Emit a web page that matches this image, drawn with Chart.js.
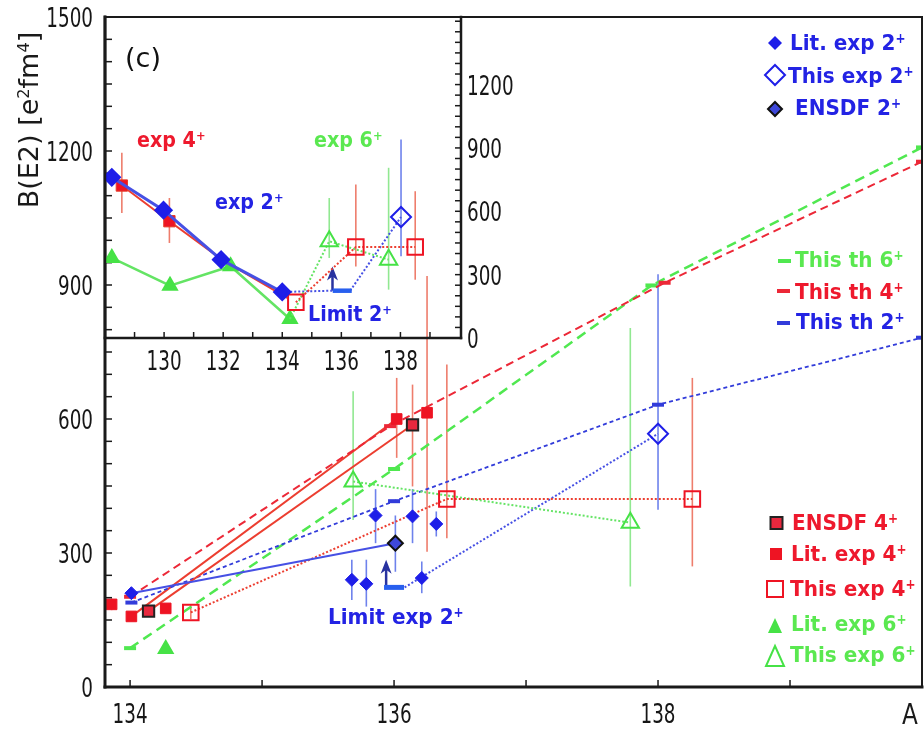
<!DOCTYPE html>
<html>
<head>
<meta charset="utf-8">
<script src="https://cdn.jsdelivr.net/npm/chart.js@4.4.1/dist/chart.umd.min.js"></script>
<style>
body{margin:0;background:#fff}
#wrap{position:relative;width:924px;height:729px;overflow:hidden;background:#fff}
canvas{position:absolute;left:0;top:0}
#marks{position:absolute;left:0;top:0}
.lbl{position:absolute;white-space:nowrap;font-family:'DejaVu Sans',sans-serif;transform-origin:0 0}
.lbl sup{font-size:0.6em;line-height:0;vertical-align:0.55em}
</style>
</head>
<body>
<div id="wrap">
  <canvas id="main" width="924" height="729"></canvas>
  <canvas id="inset" width="540" height="380"></canvas>
  <svg id="marks" width="924" height="729"></svg>
</div>
<script>
// ---- main chart: A on x, B(E2) in e2fm4 on y ----
var lit2A = [134.01, 135.68, 135.79, 135.86, 136.14, 136.21, 136.32];
var lit2B = [210, 240, 231, 384, 382, 244, 365];
var lit2Lo = [null, 195, 180, 322, 322, 210, 337];
var lit2Hi = [null, 285, 285, 443, 443, 281, 393];

var ensdf2A = [134.01, 136.01];
var ensdf2B = [210, 322];
var ensdf2Lo = [null, 258];
var ensdf2Hi = [null, 384];

var this2A = [138.0];
var this2B = [567];
var this2Lo = [397];
var this2Hi = [924];

var limit2A = [136.0];
var limit2B = [223];
var limit2LineA = [136.08, 138.0];
var limit2LineB = [223, 567];
var limit2Arrow = {a: 135.94, from: 223, to: 285};

var th2A = [134.01, 136.0, 138.0, 140.0];
var th2B = [189, 416, 632, 782];
var th4A = [134.0, 135.97, 138.05, 140.0];
var th4B = [202, 584, 905, 1176];
var th6A = [134.0, 136.0, 137.95, 140.0];
var th6B = [87, 488, 899, 1208];

var lit4A = [133.86, 134.01, 134.27, 136.02, 136.25];
var lit4B = [185, 158, 176, 600, 614];
var lit4Lo = [172, null, null, 513, 303];
var lit4Hi = [198, null, null, 692, 920];
var lit4LineA = [134.01, 136.02];
var lit4LineB = [158, 600];

var ensdf4A = [134.14, 136.14];
var ensdf4B = [170, 587];
var ensdf4Lo = [null, 449];
var ensdf4Hi = [null, 677];

var this4A = [134.46, 136.4, 138.26];
var this4B = [167, 421, 421];
var this4Lo = [152, 333, 270];
var this4Hi = [183, 722, 692];

var lit6A = [134.27];
var lit6B = [85];

var this6A = [135.69, 137.79];
var this6B = [460, 368];
var this6Lo = [374, 225];
var this6Hi = [662, 804];

var mainXTicks = [134, 135, 136, 137, 138, 139];
var mainXLabels = [134, 136, 138];
var mainYLabels = [0, 300, 600, 900, 1200, 1500];
var mainYStep = 50;

// ---- inset (c) ----
var insExp2A = [128.23, 129.98, 131.93, 134.0];
var insExp2B = [761, 605, 371, 218];
var insExp4A = [128.57, 130.18, 131.96, 134.17];
var insExp4B = [722, 553, 371, 190];
var insExp4Lo = [592, 450, null, null];
var insExp4Hi = [877, 663, null, null];
var insExp6A = [128.23, 130.2, 132.25, 134.26];
var insExp6B = [379, 248, 340, 90];

var insThis4A = [134.46, 136.49, 138.5];
var insThis4B = [169, 431, 431];
var insThis4Lo = [null, 339, 276];
var insThis4Hi = [null, 727, 695];

var insThis6A = [134.26, 135.59, 137.6];
var insThis6B = [90, 458, 371];
var insThis6Lo = [null, 379, 229];
var insThis6Hi = [null, 663, 806];

var insThis2A = [138.02];
var insThis2B = [573];
var insThis2Lo = [387];
var insThis2Hi = [940];

var insLimLineA = [134.0, 135.7, 136.3, 138.02];
var insLimLineB = [218, 224, 224, 573];
var insLimitA = [136.03];
var insLimitB = [224];
var insLimitArrow = {a: 135.7, from: 224, to: 339};

var insXTicks = [129, 130, 131, 132, 133, 134, 135, 136, 137, 138, 139];
var insXLabels = [130, 132, 134, 136, 138];
var insYLabels = [0, 300, 600, 900, 1200];
var insYStep = 50;

// colours
var BLUE = 'rgb(30,30,232)', RED = 'rgb(238,20,35)', GREEN = 'rgb(70,226,70)';
var BLUE_L = 'rgb(70,80,228)', RED_L = 'rgb(236,62,48)', GREEN_L = 'rgb(100,228,100)';
var BLUE_E = 'rgb(110,130,236)', RED_E = 'rgb(238,125,108)', GREEN_E = 'rgb(145,232,145)';
var TH_B = 'rgb(50,60,218)', TH_R = 'rgb(236,40,55)', TH_G = 'rgb(80,232,80)';
var NONE = 'rgba(0,0,0,0)';

function pts(a, b) {
  return a.map(function (v, i) { return {x: v, y: b[i]}; });
}
function mk(a, b, o) {
  return Object.assign({data: pts(a, b), showLine: false, pointRadius: 0, borderWidth: 2, order: 1}, o);
}
function line(a, b, color, width, dash, order) {
  return mk(a, b, {showLine: true, borderColor: color, borderWidth: width, borderDash: dash || [], order: order || 3});
}
function steps(max, step) {
  var out = [];
  for (var v = 0; v <= max; v += step) out.push(v);
  return out;
}

// squeezed tick text, as in the original figure
function tickText(ctx, s, x, y, align) {
  ctx.save();
  ctx.translate(x, y);
  ctx.scale(0.68, 1);
  ctx.textAlign = align;
  ctx.fillText(s, 0, 0);
  ctx.restore();
}

var decor = {
  id: 'decor',
  beforeDatasetsDraw: function (chart, args, o) {
    var ctx = chart.ctx, x = chart.scales.x, y = chart.scales.y;
    (o.bars || []).forEach(function (b) {
      ctx.save();
      ctx.strokeStyle = b.color;
      ctx.lineWidth = 1.6;
      b.a.forEach(function (a, i) {
        if (b.lo[i] == null) return;
        var px = x.getPixelForValue(a);
        ctx.beginPath();
        ctx.moveTo(px, y.getPixelForValue(b.lo[i]));
        ctx.lineTo(px, y.getPixelForValue(b.hi[i]));
        ctx.stroke();
      });
      ctx.restore();
    });
    (o.arrows || []).forEach(function (ar) {
      var px = x.getPixelForValue(ar.a), p0 = y.getPixelForValue(ar.from), p1 = y.getPixelForValue(ar.to);
      ctx.save();
      ctx.strokeStyle = ctx.fillStyle = 'rgb(40,50,160)';
      ctx.lineWidth = 2.5;
      ctx.beginPath(); ctx.moveTo(px, p0); ctx.lineTo(px, p1 + 8); ctx.stroke();
      ctx.beginPath();
      ctx.moveTo(px, p1); ctx.lineTo(px - 5.5, p1 + 14); ctx.lineTo(px, p1 + 10); ctx.lineTo(px + 5.5, p1 + 14);
      ctx.closePath(); ctx.fill();
      ctx.restore();
    });
  },
  afterDraw: function (chart, args, o) {
    var ctx = chart.ctx, x = chart.scales.x, y = chart.scales.y, c = chart.chartArea;
    ctx.save();
    ctx.strokeStyle = '#1a1a1a';
    ctx.lineWidth = 1.5;
    y.ticks.forEach(function (t) {
      var py = y.getPixelForValue(t.value);
      ctx.beginPath();
      if (o.side === 'right') { ctx.moveTo(c.right, py); ctx.lineTo(c.right - o.len, py); }
      else { ctx.moveTo(c.left, py); ctx.lineTo(c.left + o.len, py); }
      ctx.stroke();
    });
    x.ticks.forEach(function (t) {
      var px = x.getPixelForValue(t.value);
      ctx.beginPath(); ctx.moveTo(px, c.bottom); ctx.lineTo(px, c.bottom - o.len); ctx.stroke();
    });
    var f = o.frame;
    ctx.lineCap = 'square';
    ctx.lineWidth = f[0]; ctx.beginPath(); ctx.moveTo(c.left, c.top); ctx.lineTo(c.right, c.top); ctx.stroke();
    ctx.lineWidth = f[1]; ctx.beginPath(); ctx.moveTo(c.right, c.top); ctx.lineTo(c.right, c.bottom); ctx.stroke();
    ctx.lineWidth = f[2]; ctx.beginPath(); ctx.moveTo(c.left, c.bottom); ctx.lineTo(c.right, c.bottom); ctx.stroke();
    ctx.lineWidth = f[3]; ctx.beginPath(); ctx.moveTo(c.left, c.top); ctx.lineTo(c.left, c.bottom); ctx.stroke();

    // tick labels
    ctx.font = '27px "DejaVu Sans", sans-serif';
    ctx.fillStyle = '#161616';
    ctx.textBaseline = 'alphabetic';
    o.xLabels.forEach(function (v) {
      tickText(ctx, String(v), x.getPixelForValue(v), c.bottom + o.xGap, 'center');
    });
    o.yLabels.forEach(function (v) {
      var py = y.getPixelForValue(v) + 10;
      if (o.side === 'right') tickText(ctx, String(v), c.right + o.yGap, py, 'left');
      else tickText(ctx, String(v), c.left - o.yGap, py, 'right');
    });
    ctx.restore();
  }
};
Chart.register(decor);

function noPad(s) {
  s.paddingTop = s.paddingBottom = s.paddingLeft = s.paddingRight = 0;
}
function axes(xmin, xmax, xt, ymax, ystep, ypos, yw) {
  return {
    x: {
      type: 'linear', min: xmin, max: xmax,
      afterBuildTicks: function (s) { s.ticks = xt.map(function (v) { return {value: v}; }); },
      afterFit: function (s) { s.height = 42; noPad(s); },
      grid: {display: false, drawTicks: false}, border: {display: false},
      ticks: {display: false}
    },
    y: {
      type: 'linear', position: ypos, min: 0, max: ymax,
      afterBuildTicks: function (s) { s.ticks = steps(1500, ystep).map(function (v) { return {value: v}; }); },
      afterFit: function (s) { s.width = yw; noPad(s); },
      grid: {display: false, drawTicks: false}, border: {display: false},
      ticks: {display: false}
    }
  };
}

// ---- main chart ----
var mainSets = [
  mk(lit2A, lit2B, {pointStyle: 'rectRot', pointRadius: 6.5, pointBackgroundColor: BLUE, pointBorderColor: BLUE, pointBorderWidth: 1}),
  mk(ensdf2A, ensdf2B, {showLine: true, borderColor: BLUE_L, borderWidth: 2, pointStyle: 'rectRot', pointRadius: [0, 7.5],
    pointBackgroundColor: 'rgb(62,72,218)', pointBorderColor: '#111', pointBorderWidth: 2, order: 2}),
  mk(this2A, this2B, {pointStyle: 'rectRot', pointRadius: 10, pointBackgroundColor: NONE, pointBorderColor: BLUE, pointBorderWidth: 2}),
  mk(limit2A, limit2B, {pointStyle: 'line', pointRadius: 10, pointBorderColor: 'rgb(40,95,238)', pointBorderWidth: 5}),
  mk(lit4A, lit4B, {pointStyle: 'rect', pointRadius: 7.5, pointBackgroundColor: RED, pointBorderColor: RED, pointBorderWidth: 1}),
  mk(ensdf4A, ensdf4B, {showLine: true, borderColor: RED_L, borderWidth: 2, pointStyle: 'rect', pointRadius: 8,
    pointBackgroundColor: 'rgb(232,40,62)', pointBorderColor: '#222', pointBorderWidth: 2, order: 2}),
  mk(this4A, this4B, {showLine: true, borderColor: RED_L, borderWidth: 2, borderDash: [2, 2], pointStyle: 'rect', pointRadius: 11,
    pointBackgroundColor: NONE, pointBorderColor: RED, pointBorderWidth: 2, order: 2}),
  mk(lit6A, lit6B, {pointStyle: 'triangle', pointRadius: 8, pointBackgroundColor: GREEN, pointBorderColor: GREEN}),
  mk(this6A, this6B, {showLine: true, borderColor: GREEN_L, borderWidth: 2, borderDash: [2, 2], pointStyle: 'triangle', pointRadius: 10,
    pointBackgroundColor: NONE, pointBorderColor: GREEN, pointBorderWidth: 2, order: 2}),
  mk(th2A, th2B, {showLine: true, borderColor: TH_B, borderWidth: 1.8, borderDash: [4, 3], pointStyle: 'line', pointRadius: 6,
    pointBorderColor: TH_B, pointBorderWidth: 4, order: 2}),
  mk(th4A, th4B, {showLine: true, borderColor: TH_R, borderWidth: 2, borderDash: [8, 5], pointStyle: 'line', pointRadius: 6,
    pointBorderColor: TH_R, pointBorderWidth: 4, order: 2}),
  mk(th6A, th6B, {showLine: true, borderColor: TH_G, borderWidth: 2.5, borderDash: [10, 6], pointStyle: 'line', pointRadius: 6,
    pointBorderColor: TH_G, pointBorderWidth: 4, order: 2}),
  line(lit4LineA, lit4LineB, RED_L, 2),
  line(limit2LineA, limit2LineB, BLUE_L, 2, [2, 2])
];
mainSets.forEach(function (d) { d.clip = 0; });

new Chart(document.getElementById('main'), {
  type: 'scatter',
  data: {datasets: mainSets},
  options: {
    responsive: false, animation: false, events: [],
    layout: {autoPadding: false, padding: {left: 0, top: 17, right: 2, bottom: 0}},
    plugins: {
      legend: {display: false}, tooltip: {enabled: false},
      decor: {
        len: 7, side: 'left', frame: [2, 2, 3, 3],
        xLabels: mainXLabels, yLabels: mainYLabels, xGap: 36, yGap: 12,
        bars: [
          {a: lit2A, lo: lit2Lo, hi: lit2Hi, color: BLUE_E},
          {a: ensdf2A, lo: ensdf2Lo, hi: ensdf2Hi, color: BLUE_E},
          {a: this2A, lo: this2Lo, hi: this2Hi, color: BLUE_E},
          {a: lit4A, lo: lit4Lo, hi: lit4Hi, color: RED_E},
          {a: ensdf4A, lo: ensdf4Lo, hi: ensdf4Hi, color: RED_E},
          {a: this4A, lo: this4Lo, hi: this4Hi, color: RED_E},
          {a: this6A, lo: this6Lo, hi: this6Hi, color: GREEN_E}
        ],
        arrows: [limit2Arrow]
      }
    },
    scales: axes(133.81, 140, mainXTicks, 1500, mainYStep, 'left', 105)
  }
});

// ---- inset chart ----
var insSets = [
  mk(insExp2A, insExp2B, {showLine: true, borderColor: BLUE_L, borderWidth: 3, pointStyle: 'rectRot', pointRadius: 7.5,
    pointBackgroundColor: BLUE, pointBorderColor: BLUE, order: 1}),
  mk(insExp4A, insExp4B, {showLine: true, borderColor: RED_L, borderWidth: 2, pointStyle: 'rect', pointRadius: [8, 8, 0, 0],
    pointBackgroundColor: RED, pointBorderColor: 'rgb(230,60,40)', pointBorderWidth: 1, order: 2}),
  mk(insExp6A, insExp6B, {showLine: true, borderColor: GREEN_L, borderWidth: 2.5, pointStyle: 'triangle', pointRadius: 7.5,
    pointBackgroundColor: GREEN, pointBorderColor: GREEN, order: 3}),
  mk(insThis4A, insThis4B, {showLine: true, borderColor: RED_L, borderWidth: 2, borderDash: [2, 2], pointStyle: 'rect', pointRadius: 11,
    pointBackgroundColor: NONE, pointBorderColor: RED, pointBorderWidth: 2, order: 1}),
  mk(insThis6A, insThis6B, {showLine: true, borderColor: GREEN_L, borderWidth: 2, borderDash: [2, 2], pointStyle: 'triangle',
    pointRadius: [0, 10, 10], pointBackgroundColor: NONE, pointBorderColor: GREEN, pointBorderWidth: 2, order: 1}),
  mk(insThis2A, insThis2B, {pointStyle: 'rectRot', pointRadius: 10, pointBackgroundColor: NONE, pointBorderColor: BLUE, pointBorderWidth: 2}),
  mk(insLimitA, insLimitB, {pointStyle: 'line', pointRadius: 9.5, pointBorderColor: 'rgb(40,95,238)', pointBorderWidth: 4.5}),
  line(insLimLineA, insLimLineB, BLUE_L, 2, [2, 2])
];

new Chart(document.getElementById('inset'), {
  type: 'scatter',
  data: {datasets: insSets},
  options: {
    responsive: false, animation: false, events: [],
    layout: {autoPadding: false, padding: {left: 105, top: 17, right: 0, bottom: 0}},
    plugins: {
      legend: {display: false}, tooltip: {enabled: false},
      decor: {
        len: 6, side: 'right', frame: [2, 2.5, 2.5, 2.5],
        xLabels: insXLabels, yLabels: insYLabels, xGap: 32, yGap: 6,
        bars: [
          {a: insExp4A, lo: insExp4Lo, hi: insExp4Hi, color: RED_E},
          {a: insThis4A, lo: insThis4Lo, hi: insThis4Hi, color: RED_E},
          {a: insThis6A, lo: insThis6Lo, hi: insThis6Hi, color: GREEN_E},
          {a: insThis2A, lo: insThis2Lo, hi: insThis2Hi, color: BLUE_E}
        ],
        arrows: [insLimitArrow]
      }
    },
    scales: axes(128, 140.05, insXTicks, 1520, insYStep, 'right', 79)
  }
});

// ---- text ----
var wrap = document.getElementById('wrap');
function put(html, x, base, size, color, bold, sx) {
  var d = document.createElement('div');
  d.className = 'lbl';
  d.innerHTML = html;
  d.style.left = x + 'px';
  d.style.top = (base - 0.846 * size) + 'px';
  d.style.fontSize = size + 'px';
  d.style.lineHeight = size + 'px';
  d.style.color = color;
  d.style.fontWeight = bold ? 'bold' : 'normal';
  if (sx) d.style.transform = 'scaleX(' + sx + ')';
  wrap.appendChild(d);
}
var TB = 'rgb(35,35,228)', TR = 'rgb(238,25,45)', TG = 'rgb(90,232,80)';
put('Lit. exp 2<sup>+</sup>', 790, 51, 22, TB, true, 0.91);
put('This exp 2<sup>+</sup>', 788, 84, 22, TB, true, 0.91);
put('ENSDF 2<sup>+</sup>', 795, 116, 22, TB, true, 0.91);
put('This th 6<sup>+</sup>', 795, 268, 22, TG, true, 0.91);
put('This th 4<sup>+</sup>', 795, 300, 22, TR, true, 0.91);
put('This th 2<sup>+</sup>', 796, 330, 22, TB, true, 0.91);
put('ENSDF 4<sup>+</sup>', 792, 531, 22, TR, true, 0.91);
put('Lit. exp 4<sup>+</sup>', 791, 562, 22, TR, true, 0.91);
put('This exp 4<sup>+</sup>', 790, 597, 22, TR, true, 0.91);
put('Lit. exp 6<sup>+</sup>', 791, 632, 22, TG, true, 0.91);
put('This exp 6<sup>+</sup>', 790, 663, 22, TG, true, 0.91);
put('Limit exp 2<sup>+</sup>', 328, 625, 22, TB, true, 0.91);
put('exp 4<sup>+</sup>', 137, 148, 21, TR, true, 0.91);
put('exp 2<sup>+</sup>', 215, 210, 21, TB, true, 0.91);
put('exp 6<sup>+</sup>', 314, 148, 21, TG, true, 0.91);
put('Limit 2<sup>+</sup>', 308, 322, 21, TB, true, 0.91);
put('(c)', 125, 67, 27, '#111', false);

var yt = document.createElement('div');
yt.className = 'lbl';
yt.innerHTML = 'B(E2) [e<sup>2</sup>fm<sup>4</sup>]';
yt.style.cssText = 'left:-91px;top:105px;width:240px;height:30px;line-height:30px;text-align:center;font-size:27px;color:#1a1a1a;transform:rotate(-90deg);transform-origin:50% 50%';
wrap.appendChild(yt);

var ax = document.createElement('div');
ax.className = 'lbl';
ax.textContent = 'A';
ax.style.cssText = 'left:902px;top:699px;font-size:29px;line-height:30px;color:#1a1a1a;transform:scaleX(0.8)';
wrap.appendChild(ax);

// legend swatches
document.getElementById('marks').innerHTML =
  '<polygon points="775,36 782,43 775,50 768,43" fill="' + BLUE + '"/>' +
  '<polygon points="775,65 785,75 775,85 765,75" fill="none" stroke="' + BLUE + '" stroke-width="2"/>' +
  '<polygon points="775,102 782,109 775,116 768,109" fill="rgb(62,72,218)" stroke="#111" stroke-width="2"/>' +
  '<line x1="778" y1="261" x2="791" y2="261" stroke="' + TH_G + '" stroke-width="4"/>' +
  '<line x1="777" y1="291" x2="790" y2="291" stroke="' + TH_R + '" stroke-width="4"/>' +
  '<line x1="777" y1="323" x2="790" y2="323" stroke="' + TH_B + '" stroke-width="4"/>' +
  '<rect x="770.5" y="517" width="12" height="12" fill="rgb(232,40,62)" stroke="#222" stroke-width="2"/>' +
  '<rect x="770" y="548" width="12" height="12" fill="' + RED + '"/>' +
  '<rect x="767" y="581" width="16" height="16" fill="none" stroke="' + RED + '" stroke-width="2"/>' +
  '<polygon points="775,618 782,633 768,633" fill="' + GREEN + '"/>' +
  '<polygon points="775,646 784,666 766,666" fill="none" stroke="' + GREEN + '" stroke-width="2"/>';
</script>
</body>
</html>
